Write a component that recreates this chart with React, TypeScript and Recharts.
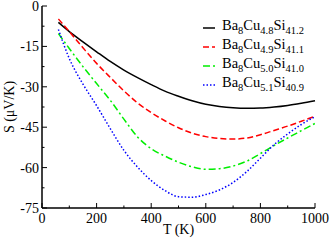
import { LineChart, Line, XAxis, YAxis, Legend } from 'recharts';

const FONT = '"Liberation Serif", "DejaVu Serif", serif';

// temperature grid (K)
const temps = [60, 100, 150, 200, 250, 300, 350, 400, 450, 500, 550, 600, 650, 700, 750, 800, 850, 900, 950, 1000];

// Seebeck coefficient, uV/K
const s48 = [-6.1, -9.5, -13.3, -17, -20.6, -23.8, -26.6, -29.2, -31.6, -33.5, -35.2, -36.5, -37.3, -37.8, -38, -37.9, -37.5, -36.9, -36.1, -35.2];
const s49 = [-4.8, -9.5, -15.5, -21.3, -26.5, -31.5, -36, -39.6, -42.6, -45.2, -47.2, -48.5, -49.2, -49.4, -49, -47.8, -46.2, -44.6, -42.8, -40.9];
const s50 = [-10.2, -15.8, -22.5, -28.8, -35, -42, -48.6, -53, -55.7, -58, -59.7, -60.6, -60.4, -59.4, -57.6, -54.8, -51.8, -49, -46.3, -43.6];
const s51 = [-8.7, -19.5, -29, -37, -45.5, -53.6, -59.8, -64.8, -68.5, -70.8, -71, -70, -68.3, -65.5, -61.5, -56.5, -51.5, -47.5, -44, -41.1];

const xTicks = [0, 100, 200, 300, 400, 500, 600, 700, 800, 900, 1000];
const yTicks = [0, -7.5, -15, -22.5, -30, -37.5, -45, -52.5, -60, -67.5, -75];

// composition subscripts: Ba_a Cu_b Si_c
const ba = ['8', '8', '8', '8'];
const cu = ['4.8', '4.9', '5.0', '5.1'];
const si = ['41.2', '41.1', '41.0', '40.9'];

const series = [
  { key: 's48', color: '#000000', dash: undefined as string | undefined },
  { key: 's49', color: '#ff0000', dash: '6 3' },
  { key: 's50', color: '#00ee00', dash: '7 3 2 3' },
  { key: 's51', color: '#0000ff', dash: '1.5 2' },
];

const data = temps.map((t, i) => ({ T: t, s48: s48[i], s49: s49[i], s50: s50[i], s51: s51[i] }));

const txt = { fontFamily: FONT, fontSize: 14, fill: '#000' };

function BottomTick({ x, y, payload }: any) {
  const major = payload.value % 200 === 0;
  return (
    <g>
      <line x1={x} y1={y} x2={x} y2={y - (major ? 5 : 2.5)} stroke="#000" />
      {major && (
        <text x={x} y={y + 14.5} textAnchor="middle" style={txt}>
          {payload.value}
        </text>
      )}
    </g>
  );
}

function TopTick({ x, y, payload }: any) {
  const major = payload.value % 200 === 0;
  return <line x1={x} y1={y} x2={x} y2={y + (major ? 5 : 2.5)} stroke="#000" />;
}

function LeftTick({ x, y, payload }: any) {
  const major = payload.value % 15 === 0;
  return (
    <g>
      <line x1={x} y1={y} x2={x + (major ? 5 : 2.5)} y2={y} stroke="#000" />
      {major && (
        <text x={x - 3} y={y} dy="0.35em" textAnchor="end" style={txt}>
          {payload.value}
        </text>
      )}
    </g>
  );
}

function RightTick({ x, y, payload }: any) {
  const major = payload.value % 15 === 0;
  return <line x1={x} y1={y} x2={x - (major ? 5 : 2.5)} y2={y} stroke="#000" />;
}

function XTitle({ viewBox }: any) {
  const cx = viewBox.x + viewBox.width / 2;
  return (
    <text x={cx} y={viewBox.y + 26} textAnchor="middle" style={txt}>
      T (K)
    </text>
  );
}

function YTitle({ viewBox }: any) {
  const cx = 9;
  const cy = viewBox.y + viewBox.height / 2;
  return (
    <text x={cx} y={cy} dy="0.35em" transform={`rotate(-90 ${cx} ${cy})`} textAnchor="middle" style={txt}>
      S (μV/K)
    </text>
  );
}

function LegendBox() {
  return (
    <div style={{ fontFamily: FONT, color: '#000' }}>
      {series.map((s, i) => (
        <div key={s.key} style={{ display: 'flex', alignItems: 'center', height: 19, lineHeight: '19px' }}>
          <svg width={16} height={6} style={{ marginRight: 4 }}>
            <line x1={1} y1={3} x2={13} y2={3} stroke={s.color} strokeWidth={1.5} strokeDasharray={s.dash} />
          </svg>
          <span style={{ fontSize: 14.5, whiteSpace: 'nowrap' }}>
            Ba<sub style={{ fontSize: 10.5 }}>{ba[i]}</sub>Cu<sub style={{ fontSize: 10.5 }}>{cu[i]}</sub>Si
            <sub style={{ fontSize: 10.5 }}>{si[i]}</sub>
          </span>
        </div>
      ))}
    </div>
  );
}

export default function App() {
  return (
    <div style={{ position: 'absolute', left: 0, top: 0, width: 332, height: 240, background: '#fff' }}>
      <LineChart width={332} height={240} data={data} margin={{ top: 6, right: 17, bottom: 0, left: 0 }}>
        <XAxis
          xAxisId="b"
          dataKey="T"
          type="number"
          domain={[0, 1000]}
          ticks={xTicks}
          interval={0}
          height={32}
          tickLine={false}
          tickSize={0}
          tickMargin={0}
          tick={<BottomTick />}
          axisLine={{ stroke: '#000', strokeWidth: 1.5 }}
          label={<XTitle />}
        />
        <XAxis
          xAxisId="t"
          orientation="top"
          type="number"
          domain={[0, 1000]}
          allowDataOverflow
          ticks={xTicks}
          interval={0}
          height={0}
          tickLine={false}
          tickSize={0}
          tickMargin={0}
          tick={<TopTick />}
          axisLine={{ stroke: '#000', strokeWidth: 1.5 }}
        />
        <YAxis
          yAxisId="l"
          type="number"
          domain={[-75, 0]}
          ticks={yTicks}
          interval={0}
          width={42}
          tickLine={false}
          tickSize={0}
          tickMargin={0}
          tick={<LeftTick />}
          axisLine={{ stroke: '#000', strokeWidth: 1.5 }}
          label={<YTitle />}
        />
        <YAxis
          yAxisId="r"
          orientation="right"
          type="number"
          domain={[-75, 0]}
          allowDataOverflow
          ticks={yTicks}
          interval={0}
          width={0}
          tickLine={false}
          tickSize={0}
          tickMargin={0}
          tick={<RightTick />}
          axisLine={{ stroke: '#000', strokeWidth: 1.5 }}
        />
        <Legend
          layout="vertical"
          align="center"
          verticalAlign="middle"
          content={<LegendBox />}
          wrapperStyle={{ left: 202, top: 18, width: 125, height: 80 }}
        />
        {series.map((s) => (
          <Line
            key={s.key}
            xAxisId="b"
            yAxisId="l"
            type="monotone"
            dataKey={s.key}
            stroke={s.color}
            strokeWidth={1.5}
            strokeDasharray={s.dash}
            dot={false}
            isAnimationActive={false}
          />
        ))}
      </LineChart>
    </div>
  );
}
